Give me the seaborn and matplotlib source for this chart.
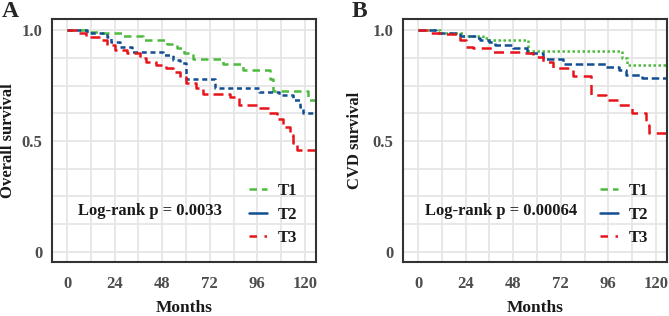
import matplotlib
matplotlib.use("Agg")
import matplotlib.pyplot as plt
import seaborn as sns
import numpy as np
from matplotlib.lines import Line2D

# step points (months, survival)
a_t1_x = [0, 10.6, 16.6, 28.4, 38.5, 50.3, 55.3, 58.8, 63.7, 78.8, 88.9, 102.5, 104, 121.7, 125]
a_t1_y = [1.0, 0.99, 0.988, 0.973, 0.955, 0.937, 0.917, 0.895, 0.868, 0.847, 0.82, 0.78, 0.727, 0.685, 0.685]
a_t2_x = [0, 9.9, 20, 22, 26.6, 33, 48.5, 53.5, 57, 60, 74.6, 97, 107, 114, 117.5, 119, 125]
a_t2_y = [1.0, 0.988, 0.97, 0.945, 0.925, 0.902, 0.887, 0.865, 0.85, 0.779, 0.741, 0.722, 0.707, 0.684, 0.654, 0.624, 0.624]
a_t3_x = [0, 5.6, 9.8, 16.5, 20, 24, 30, 37, 40, 45, 50, 53.5, 57, 60, 65, 68.7, 82, 87, 97, 102,
          106, 109, 112.5, 114, 116, 125]
a_t3_y = [1.0, 0.985, 0.97, 0.955, 0.932, 0.91, 0.895, 0.872, 0.857, 0.842, 0.827, 0.812, 0.79, 0.76,
          0.737, 0.714, 0.7, 0.662, 0.647, 0.624, 0.6, 0.564, 0.526, 0.489, 0.459, 0.459]

b_t1_x = [0, 10.9, 22.7, 32.7, 36, 55.4, 103, 105.5, 125]
b_t1_y = [1.0, 0.988, 0.973, 0.962, 0.955, 0.907, 0.872, 0.842, 0.842]
b_t2_x = [0, 9.2, 21, 29, 31, 36, 39, 48, 55, 63, 73, 95, 101.5, 105, 113, 125]
b_t2_y = [1.0, 0.988, 0.973, 0.962, 0.955, 0.947, 0.932, 0.917, 0.895, 0.868, 0.845, 0.835, 0.82,
          0.797, 0.782, 0.782]
b_t3_x = [0, 5.9, 12.6, 21, 24.3, 27.7, 37.8, 53, 58, 63, 68, 78, 87.3, 95, 101.5, 108, 115, 116.6, 125]
b_t3_y = [1.0, 0.985, 0.98, 0.955, 0.925, 0.917, 0.902, 0.895, 0.88, 0.857, 0.827, 0.792, 0.707, 0.684,
          0.662, 0.624, 0.571, 0.534, 0.534]

groups = ["T1", "T2", "T3"]
colors = {"T1": "#4dbb3f", "T2": "#124e93", "T3": "#e8141c"}
panels = ["A", "B"]
ylabels = ["Overall survival", "CVD survival"]
pvals = ["Log-rank p = 0.0033", "Log-rank p = 0.00064"]

sns.set_style("white")
plt.rcParams["font.family"] = ["Liberation Serif", "DejaVu Serif"]
plt.rcParams["font.weight"] = "bold"

fig = plt.figure(figsize=(6.69, 3.16), dpi=100)
ax_a = fig.add_axes([0.0777, 0.171, 0.3946, 0.769])
ax_b = fig.add_axes([0.6024, 0.171, 0.3946, 0.769])

curves = [
    [(a_t1_x, a_t1_y, (0, (3, 2))), (a_t2_x, a_t2_y, (0, (2, 1.5))), (a_t3_x, a_t3_y, (0, (4, 2)))],
    [(b_t1_x, b_t1_y, (0, (1, 1))), (b_t2_x, b_t2_y, (0, (3, 1.5))), (b_t3_x, b_t3_y, (0, (4, 2.5)))],
]
ylab_x = [-0.135, -0.15]

for i, ax in enumerate([ax_a, ax_b]):
    ax.set_xlim(-7.6, 125.6)
    ax.set_ylim(-0.045, 1.05)
    ax.set_xticks(np.arange(0, 121, 12), minor=True)
    ax.set_yticks(np.arange(0, 1.01, 0.125), minor=True)
    ax.grid(which="both", color="#e6e6e6", linewidth=1.3)
    ax.set_axisbelow(True)
    for g, (xs, ys, ls) in zip(groups, curves[i]):
        sns.lineplot(x=xs, y=ys, ax=ax, color=colors[g], linewidth=1.8,
                     linestyle=ls, drawstyle="steps-post", estimator=None, sort=False)
    ax.set_xticks([0, 24, 48, 72, 96, 120])
    ax.set_yticks([0, 0.25, 0.5, 0.75, 1.0])
    ax.set_yticklabels(["0", "", "0.5", "", "1.0"])
    ax.tick_params(which="major", length=3, width=1.2, color="#222222",
                   labelsize=12, labelcolor="#4d4d4d")
    ax.tick_params(axis="x", pad=7)
    ax.tick_params(axis="y", pad=4)
    ax.tick_params(which="minor", length=0)
    for lab in ax.get_xticklabels() + ax.get_yticklabels():
        lab.set_fontweight("bold")
    for sp in ax.spines.values():
        sp.set_color("#333333")
        sp.set_linewidth(1.5)
    ax.set_xlabel("Months", fontsize=12.5, fontweight="bold", color="#1a1a1a")
    ax.xaxis.set_label_coords(0.5, -0.158)
    ax.set_ylabel(ylabels[i], fontsize=12, fontweight="bold", color="#1a1a1a")
    ax.yaxis.set_label_coords(ylab_x[i], 0.5)
    ax.text(0.37, 0.21, pvals[i], transform=ax.transAxes, ha="center", va="center",
            fontsize=12, fontweight="bold", color="#1a1a1a")
    handles = [
        Line2D([], [], color=colors["T1"], linewidth=1.8, linestyle=(0, (3, 2))),
        Line2D([], [], color=colors["T2"], linewidth=1.8, linestyle="-"),
        Line2D([], [], color=colors["T3"], linewidth=1.8, linestyle=(0, (3, 3, 1, 3))),
    ]
    leg = ax.legend(handles, groups, loc="center left", bbox_to_anchor=(0.69, 0.195),
                    frameon=False, handlelength=1.1, handletextpad=0.6, labelspacing=0.45,
                    prop={"family": "Liberation Serif", "weight": "bold", "size": 12})
    for t in leg.get_texts():
        t.set_color("#1a1a1a")

fig.text(0.003, 0.965, "A", fontsize=17, fontweight="bold", va="center", ha="left")
fig.text(0.525, 0.965, "B", fontsize=17, fontweight="bold", va="center", ha="left")

fig.savefig("out.png", dpi=100)
